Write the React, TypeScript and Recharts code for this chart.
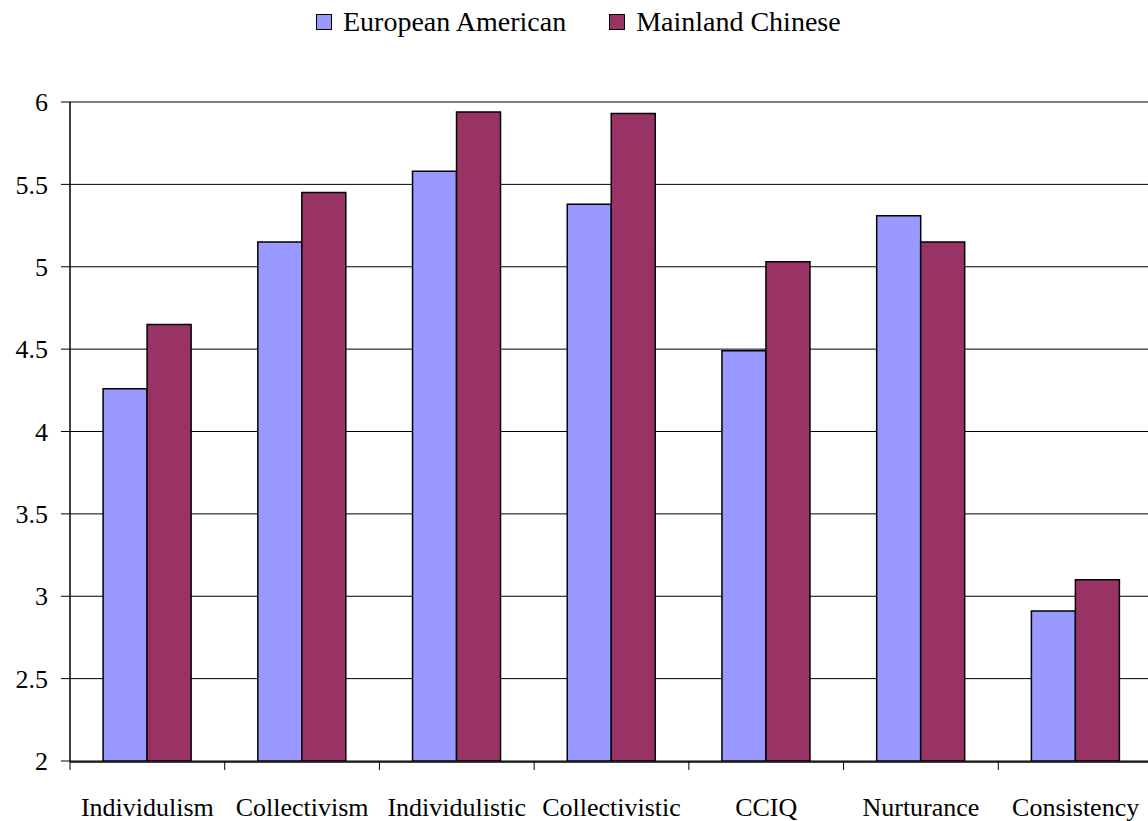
import React from 'react';
import { BarChart, Bar, XAxis, YAxis, CartesianGrid, Legend } from 'recharts';

const categories = ['Individulism', 'Collectivism', 'Individulistic', 'Collectivistic', 'CCIQ', 'Nurturance', 'Consistency'];
const europeanAmerican = [4.26, 5.15, 5.58, 5.38, 4.49, 5.31, 2.91];
const mainlandChinese = [4.65, 5.45, 5.94, 5.93, 5.03, 5.15, 3.1];
const yTicks = [2, 2.5, 3, 3.5, 4, 4.5, 5, 5.5, 6];
const boundaryTicks = [0, 1, 2, 3, 4, 5, 6, 7];

const seriesNames = ['European American', 'Mainland Chinese'];
const colors = ['#9999FF', '#993366'];

const data = categories.map((c, i) => ({
  name: c,
  idx: i + 0.5,
  ea: europeanAmerican[i],
  mc: mainlandChinese[i],
}));

const FONT = '"Liberation Serif", "Times New Roman", serif';

const LegendContent = () => (
  <div style={{ display: 'flex', alignItems: 'center', fontFamily: FONT, fontSize: 28, color: '#000', whiteSpace: 'nowrap', lineHeight: '36px' }}>
    {seriesNames.map((n, i) => (
      <div key={n} style={{ display: 'flex', alignItems: 'center', marginRight: i === 0 ? 43 : 0 }}>
        <span style={{ display: 'inline-block', width: 14, height: 14, background: colors[i], border: '1.5px solid #000', marginRight: 11 }} />
        <span>{n}</span>
      </div>
    ))}
  </div>
);

const EmptyTick = () => <g />;

export default function App() {
  return (
    <div style={{ position: 'absolute', left: 0, top: 0, width: 1148, height: 821, overflow: 'hidden', background: '#fff' }}>
      <BarChart
        width={1160}
        height={821}
        data={data}
        margin={{ top: 102, right: 7, bottom: 58, left: 0 }}
        barCategoryGap="21.4%"
        barGap={0}
      >
        <CartesianGrid horizontal vertical={false} stroke="#000" strokeWidth={1} />
        <XAxis
          xAxisId="bounds"
          type="number"
          dataKey="idx"
          domain={[0, 7]}
          ticks={boundaryTicks}
          tick={EmptyTick}
          height={1}
          tickSize={9}
          axisLine={false}
          tickLine={{ stroke: '#000', strokeWidth: 1 }}
        />
        <XAxis
          xAxisId="cat"
          dataKey="name"
          height={1}
          tickLine={false}
          tickSize={9}
          tickMargin={27}
          axisLine={{ stroke: '#000', strokeWidth: 1.5 }}
          tick={{ fill: '#000', fontSize: 26, fontFamily: FONT }}
          interval={0}
        />
        <YAxis
          width={70}
          domain={[2, 6]}
          ticks={yTicks}
          tickSize={9}
          tickMargin={13}
          allowDataOverflow
          axisLine={{ stroke: '#000', strokeWidth: 1.5 }}
          tickLine={{ stroke: '#000', strokeWidth: 1 }}
          tick={{ fill: '#000', fontSize: 26, fontFamily: FONT }}
        />
        <Legend
          layout="horizontal"
          verticalAlign="middle"
          align="center"
          wrapperStyle={{ top: 4, left: 316, width: 'auto', height: 36 }}
          content={<LegendContent />}
        />
        <Bar xAxisId="cat" dataKey="ea" name={seriesNames[0]} fill={colors[0]} stroke="#000" strokeWidth={1.5} isAnimationActive={false} />
        <Bar xAxisId="cat" dataKey="mc" name={seriesNames[1]} fill={colors[1]} stroke="#000" strokeWidth={1.5} isAnimationActive={false} />
      </BarChart>
    </div>
  );
}
